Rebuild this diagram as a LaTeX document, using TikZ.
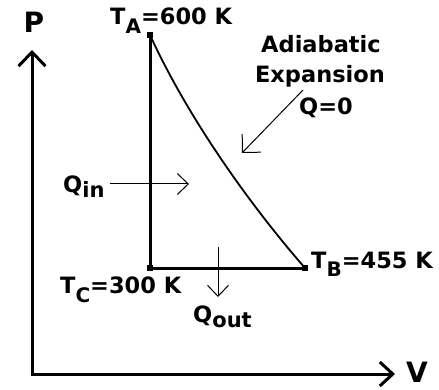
\documentclass[tikz,border=0pt]{standalone}
\usepackage{fontspec}
\setmainfont{DejaVu Sans}
\usetikzlibrary{arrows.meta}
\newcommand{\tsub}[1]{\raisebox{-9pt}{\fontsize{20}{20}\selectfont #1}}
\newcommand{\qsub}[1]{\raisebox{-5pt}{\fontsize{21}{21}\selectfont #1}}
\tikzset{
  lbl/.style={font=\fontsize{22.5}{24}\selectfont\bfseries, inner sep=0pt, anchor=base west},
  ctr/.style={font=\fontsize{22.5}{24}\selectfont\bfseries, inner sep=0pt, anchor=base},
  axlbl/.style={font=\fontsize{28}{30}\selectfont\bfseries, inner sep=0pt, anchor=base},
  axis/.style={line width=3pt, line join=miter, {Straight Barb[length=14pt,width=27pt]}-{Straight Barb[length=13pt,width=24pt]}},
  path/.style={line width=3pt},
  curve/.style={line width=1.8pt},
  thinarrow/.style={line width=1pt, -{Straight Barb[length=11pt,width=21pt]}},
  diagarrow/.style={line width=1pt, -{Straight Barb[length=13pt,width=26pt]}},
  pt/.style={fill=black, minimum size=6pt, inner sep=0pt, draw=none, rectangle}
}
\begin{document}
\begin{tikzpicture}[x=1pt,y=-1pt]
\useasboundingbox (0,0) rectangle (439,390);
% axes
\coordinate (Ptop) at (32,50);
\coordinate (O) at (32,374);
\coordinate (Vend) at (395,374);
\draw[axis] (Ptop) -- (O) -- (Vend);
\node[axlbl] (Plbl) at (34,33) {P};
\node[axlbl] (Vlbl) at (417,382) {V};
% states
\coordinate (A) at (150,35);
\coordinate (B) at (305,268);
\coordinate (C) at (150,268);
\draw[path] (A) -- (C) -- (B);
\draw[curve] (A) .. controls (188,118) and (250,205) .. (B);
\node[pt] (Asq) at (A) {};
\node[pt] (Bsq) at (B) {};
\node[pt] (Csq) at (C) {};
% labels
\node[lbl] (TA) at (110,25) {T\tsub{A}=600 K};
\node[lbl] (TB) at (311,268) {T\tsub{B}=455 K};
\node[lbl] (TC) at (60,293) {T\tsub{C}=300 K};
\node[ctr] (ad1) at (321,53) {Adiabatic};
\node[ctr] (ad2) at (320,83) {Expansion};
\node[ctr] (ad3) at (326,115) {Q=0};
\node[lbl] (Qin) at (63,193) {Q\qsub{in}};
\node[lbl] (Qout) at (193,322) {Q\qsub{out}};
% heat arrows
\coordinate (qi1) at (110,184);
\coordinate (qi2) at (189,184);
\draw[thinarrow] (qi1) -- (qi2);
\coordinate (qo1) at (218,247);
\coordinate (qo2) at (218,297);
\draw[thinarrow] (qo1) -- (qo2);
\coordinate (ea1) at (303,90);
\coordinate (ea2) at (242,153);
\draw[diagarrow] (ea1) -- (ea2);
\end{tikzpicture}
\end{document}
